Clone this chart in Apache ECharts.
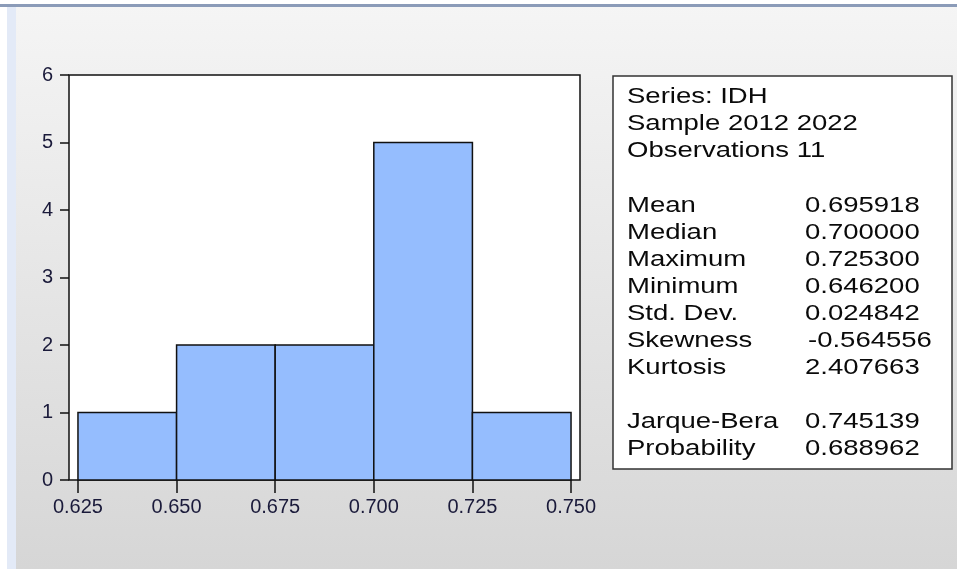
<!DOCTYPE html>
<html>
<head>
<meta charset="utf-8">
<script src="https://cdn.jsdelivr.net/npm/echarts@6/dist/echarts.min.js"></script>
<style>
html,body{margin:0;padding:0;background:#fff;}
#c{width:957px;height:569px;}
</style>
</head>
<body>
<div id="c"></div>
<script>
// Histogram bins (lower edge, upper edge) and counts
var binStarts = [0.625, 0.650, 0.675, 0.700, 0.725];
var binEnds   = [0.650, 0.675, 0.700, 0.725, 0.750];
var counts    = [1, 2, 2, 5, 1];
var xTicks = [0.625, 0.650, 0.675, 0.700, 0.725, 0.750];
var yTicks = [0, 1, 2, 3, 4, 5, 6];

// Statistics panel
var headerLines = ['Series: IDH', 'Sample 2012 2022', 'Observations 11'];
var statNames  = ['Mean', 'Median', 'Maximum', 'Minimum', 'Std. Dev.', 'Skewness', 'Kurtosis'];
var statValues = ['0.695918', '0.700000', '0.725300', '0.646200', '0.024842', '-0.564556', '2.407663'];
var testNames  = ['Jarque-Bera', 'Probability'];
var testValues = ['0.745139', '0.688962'];

var chart = echarts.init(document.getElementById('c'), null, {renderer: 'canvas'});

var data = binStarts.map(function (s, i) { return [s, binEnds[i], counts[i]]; });

var FONT = '"Liberation Sans", Arial, sans-serif';
var lh = 27;
var tx = 627, vx = 805, ty0 = 97;
var graphics = [];
// background
graphics.push({type:'rect', z:-10, silent:true, shape:{x:0,y:0,width:957,height:569},
  style:{fill:new echarts.graphic.LinearGradient(0,0,0,1,[{offset:0,color:'#f5f5f5'},{offset:1,color:'#d6d6d6'}])}});
graphics.push({type:'rect', z:-9, silent:true, shape:{x:0,y:0,width:957,height:4}, style:{fill:'#ffffff'}});
graphics.push({type:'rect', z:-9, silent:true, shape:{x:0,y:4,width:957,height:3}, style:{fill:'#8b9bb8'}});
graphics.push({type:'rect', z:-9, silent:true, shape:{x:0,y:7,width:7,height:562}, style:{fill:'#ffffff'}});
graphics.push({type:'rect', z:-9, silent:true, shape:{x:7,y:7,width:9,height:562}, style:{fill:'#e3eaf7'}});
// stats box
graphics.push({type:'rect', z:5, silent:true, shape:{x:613,y:76,width:339,height:393},
  style:{fill:'#ffffff', stroke:'#333333', lineWidth:1.5}});
function addText(x, y, t) {
  graphics.push({type:'text', z:6, silent:true, x:x, y:y, scaleX:1.25, scaleY:1,
    style:{text:t, font:'22px ' + FONT, fill:'#0a0a0a', verticalAlign:'middle'}});
}
headerLines.forEach(function (t, i) { addText(tx, ty0 + i * lh, t); });
var sy = ty0 + 4 * lh + 1;
statNames.forEach(function (t, i) { addText(tx, sy + i * lh, t); addText(vx + (statValues[i].charAt(0) === '-' ? 3 : 0), sy + i * lh, statValues[i]); });
var jy = sy + 8 * lh;
testNames.forEach(function (t, i) { addText(tx, jy + i * lh, t); addText(vx, jy + i * lh, testValues[i]); });

var pad = 0.025 * 9 / 99;

chart.setOption({
  animation: false,
  backgroundColor: 'transparent',
  graphic: graphics,
  grid: {left: 69, right: 957 - 580, top: 75, bottom: 569 - 480, show: true,
    backgroundColor: '#ffffff', borderColor: '#111111', borderWidth: 1.5},
  xAxis: {
    type: 'value', min: 0.625 - pad, max: 0.750 + pad,
    axisLine: {show: false},
    splitLine: {show: false},
    axisTick: {show: true, customValues: xTicks, length: 13, lineStyle: {color: '#111', width: 1.5}},
    axisLabel: {customValues: xTicks, margin: 17, color: '#1a1a3a', fontSize: 20, fontFamily: FONT,
      formatter: function (v) { return v.toFixed(3); }}
  },
  yAxis: {
    type: 'value', min: 0, max: 6, interval: 1,
    axisLine: {show: false},
    splitLine: {show: false},
    axisTick: {show: true, length: 9, lineStyle: {color: '#111', width: 1.5}},
    axisLabel: {margin: 16, color: '#1a1a3a', fontSize: 20, fontFamily: FONT}
  },
  series: [{
    type: 'custom',
    data: data,
    encode: {x: [0, 1], y: 2},
    renderItem: function (params, api) {
      var p0 = api.coord([api.value(0), api.value(2)]);
      var p1 = api.coord([api.value(1), 0]);
      return {
        type: 'rect',
        shape: {x: p0[0], y: p0[1], width: p1[0] - p0[0], height: p1[1] - p0[1]},
        style: {fill: '#95bdfe', stroke: '#111111', lineWidth: 1.5}
      };
    }
  }]
});
</script>
</body>
</html>
